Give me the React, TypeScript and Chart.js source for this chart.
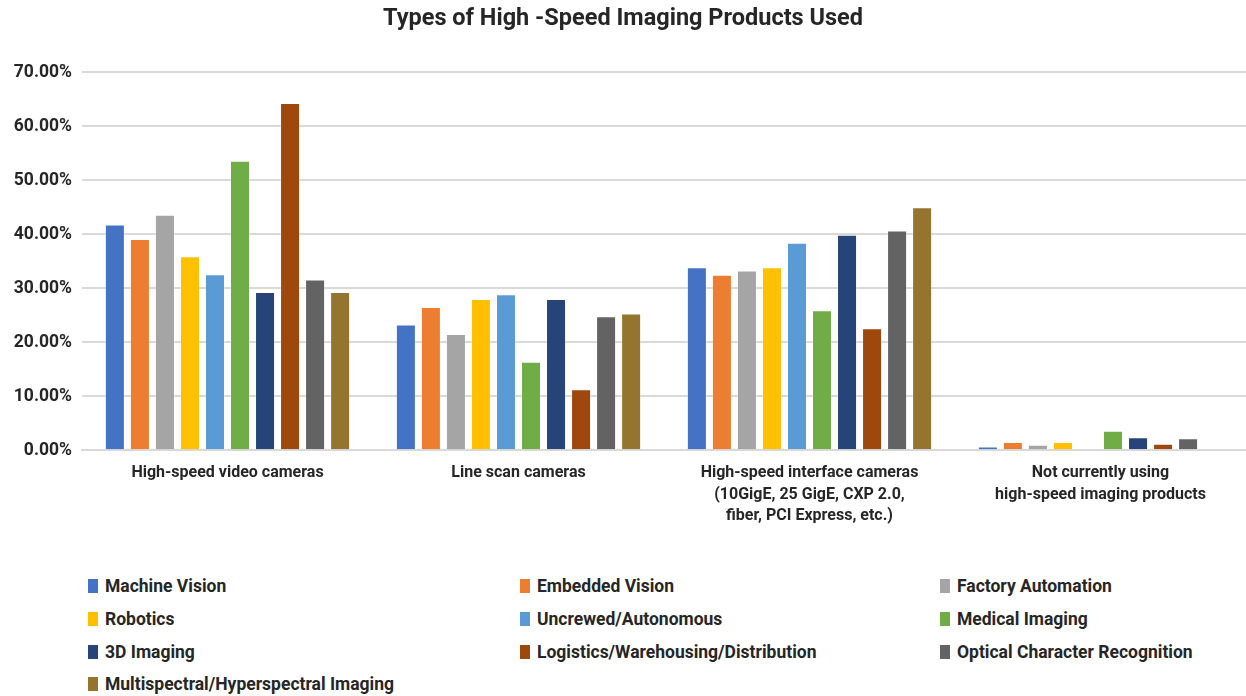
import React, { useEffect, useRef } from "react";
import { Chart, registerables } from "chart.js";

Chart.register(...registerables);

const categories: (string | string[])[] = [
  "High-speed video cameras",
  "Line scan cameras",
  ["High-speed interface cameras", "(10GigE, 25 GigE, CXP 2.0,", "fiber, PCI Express, etc.)"],
  ["Not currently using", "high-speed imaging products"],
];

const seriesNames = [
  "Machine Vision",
  "Embedded Vision",
  "Factory Automation",
  "Robotics",
  "Uncrewed/Autonomous",
  "Medical Imaging",
  "3D Imaging",
  "Logistics/Warehousing/Distribution",
  "Optical Character Recognition",
  "Multispectral/Hyperspectral Imaging",
];

const seriesColors = [
  "#4472C4",
  "#ED7D31",
  "#A5A5A5",
  "#FFC000",
  "#5B9BD5",
  "#70AD47",
  "#264478",
  "#9E480E",
  "#636363",
  "#95742F",
];

const machineVision = [41.8, 23.3, 33.9, 0.7];
const embeddedVision = [39.1, 26.5, 32.5, 1.5];
const factoryAutomation = [43.6, 21.5, 33.3, 1.0];
const robotics = [35.9, 28.0, 33.9, 1.5];
const uncrewed = [32.6, 28.9, 38.4, null];
const medicalImaging = [53.6, 16.4, 25.9, 3.6];
const imaging3D = [29.3, 28.0, 39.9, 2.4];
const logistics = [64.3, 11.3, 22.6, 1.2];
const ocr = [31.6, 24.8, 40.7, 2.2];
const multispectral = [29.3, 25.3, 45.0, null];

const seriesValues = [
  machineVision,
  embeddedVision,
  factoryAutomation,
  robotics,
  uncrewed,
  medicalImaging,
  imaging3D,
  logistics,
  ocr,
  multispectral,
];

const yTicks = [0, 10, 20, 30, 40, 50, 60, 70];

const FONT = "Roboto, 'Noto Sans', sans-serif";
const TEXT = "#262626";

export default function App() {
  const canvasRef = useRef<HTMLCanvasElement | null>(null);

  useEffect(() => {
    document.body.style.margin = "0";
    const ctx = canvasRef.current;
    if (!ctx) return;
    const chart = new Chart(ctx, {
      type: "bar",
      data: {
        labels: categories as any,
        datasets: seriesNames.map((name, i) => ({
          label: name,
          data: seriesValues[i] as any,
          backgroundColor: seriesColors[i],
          borderColor: "rgba(255,255,255,0.3)",
          borderWidth: 1,
          categoryPercentage: 0.86,
          barPercentage: 0.8,
        })),
      },
      options: {
        animation: false,
        responsive: false,
        maintainAspectRatio: false,
        layout: { padding: { left: 0, right: 0, top: 0, bottom: 0 } },
        plugins: {
          legend: { display: false },
          tooltip: { enabled: false },
          title: {
            display: true,
            text: "Types of High -Speed Imaging Products Used",
            color: TEXT,
            font: { family: FONT, size: 23.5, weight: "bold" },
            padding: { top: 5, bottom: 39 },
          },
        },
        scales: {
          x: {
            grid: { display: false, drawTicks: false },
            border: { display: true, color: "#d9d9d9", width: 2 },
            ticks: {
              color: TEXT,
              padding: 12,
              maxRotation: 0,
              autoSkip: false,
              font: { family: FONT, size: 16, weight: "bold", lineHeight: 1.35 },
            },
          },
          y: {
            min: 0,
            max: 70,
            afterBuildTicks: (scale: any) => {
              scale.ticks = yTicks.map((v) => ({ value: v }));
            },
            afterFit: (scale: any) => {
              scale.width = 82;
            },
            grid: { color: "#d9d9d9", lineWidth: 2, drawTicks: false },
            border: { display: false },
            ticks: {
              color: TEXT,
              padding: 10,
              font: { family: FONT, size: 17.5, weight: "bold" },
              callback: (v: any) => Number(v).toFixed(2) + "%",
            },
          },
        },
      },
    });
    return () => chart.destroy();
  }, []);

  return (
    <div style={{ position: "relative", width: 1246, height: 696, background: "#fff", overflow: "hidden" }}>
      <canvas ref={canvasRef} width={1246} height={539} style={{ position: "absolute", left: 0, top: 0 }} />
      <div
        style={{
          position: "absolute",
          left: 88,
          top: 570,
          display: "grid",
          gridTemplateColumns: "432px 420px 300px",
          gridAutoRows: "32.7px",
          fontFamily: FONT,
          fontWeight: "bold",
          fontSize: 17.5,
          color: TEXT,
        }}
      >
        {seriesNames.map((name, i) => (
          <div key={name} style={{ display: "flex", alignItems: "center", whiteSpace: "nowrap" }}>
            <span
              style={{
                display: "inline-block",
                width: 10,
                height: 14,
                background: seriesColors[i],
                marginRight: 7,
              }}
            />
            <span>{name}</span>
          </div>
        ))}
      </div>
    </div>
  );
}
